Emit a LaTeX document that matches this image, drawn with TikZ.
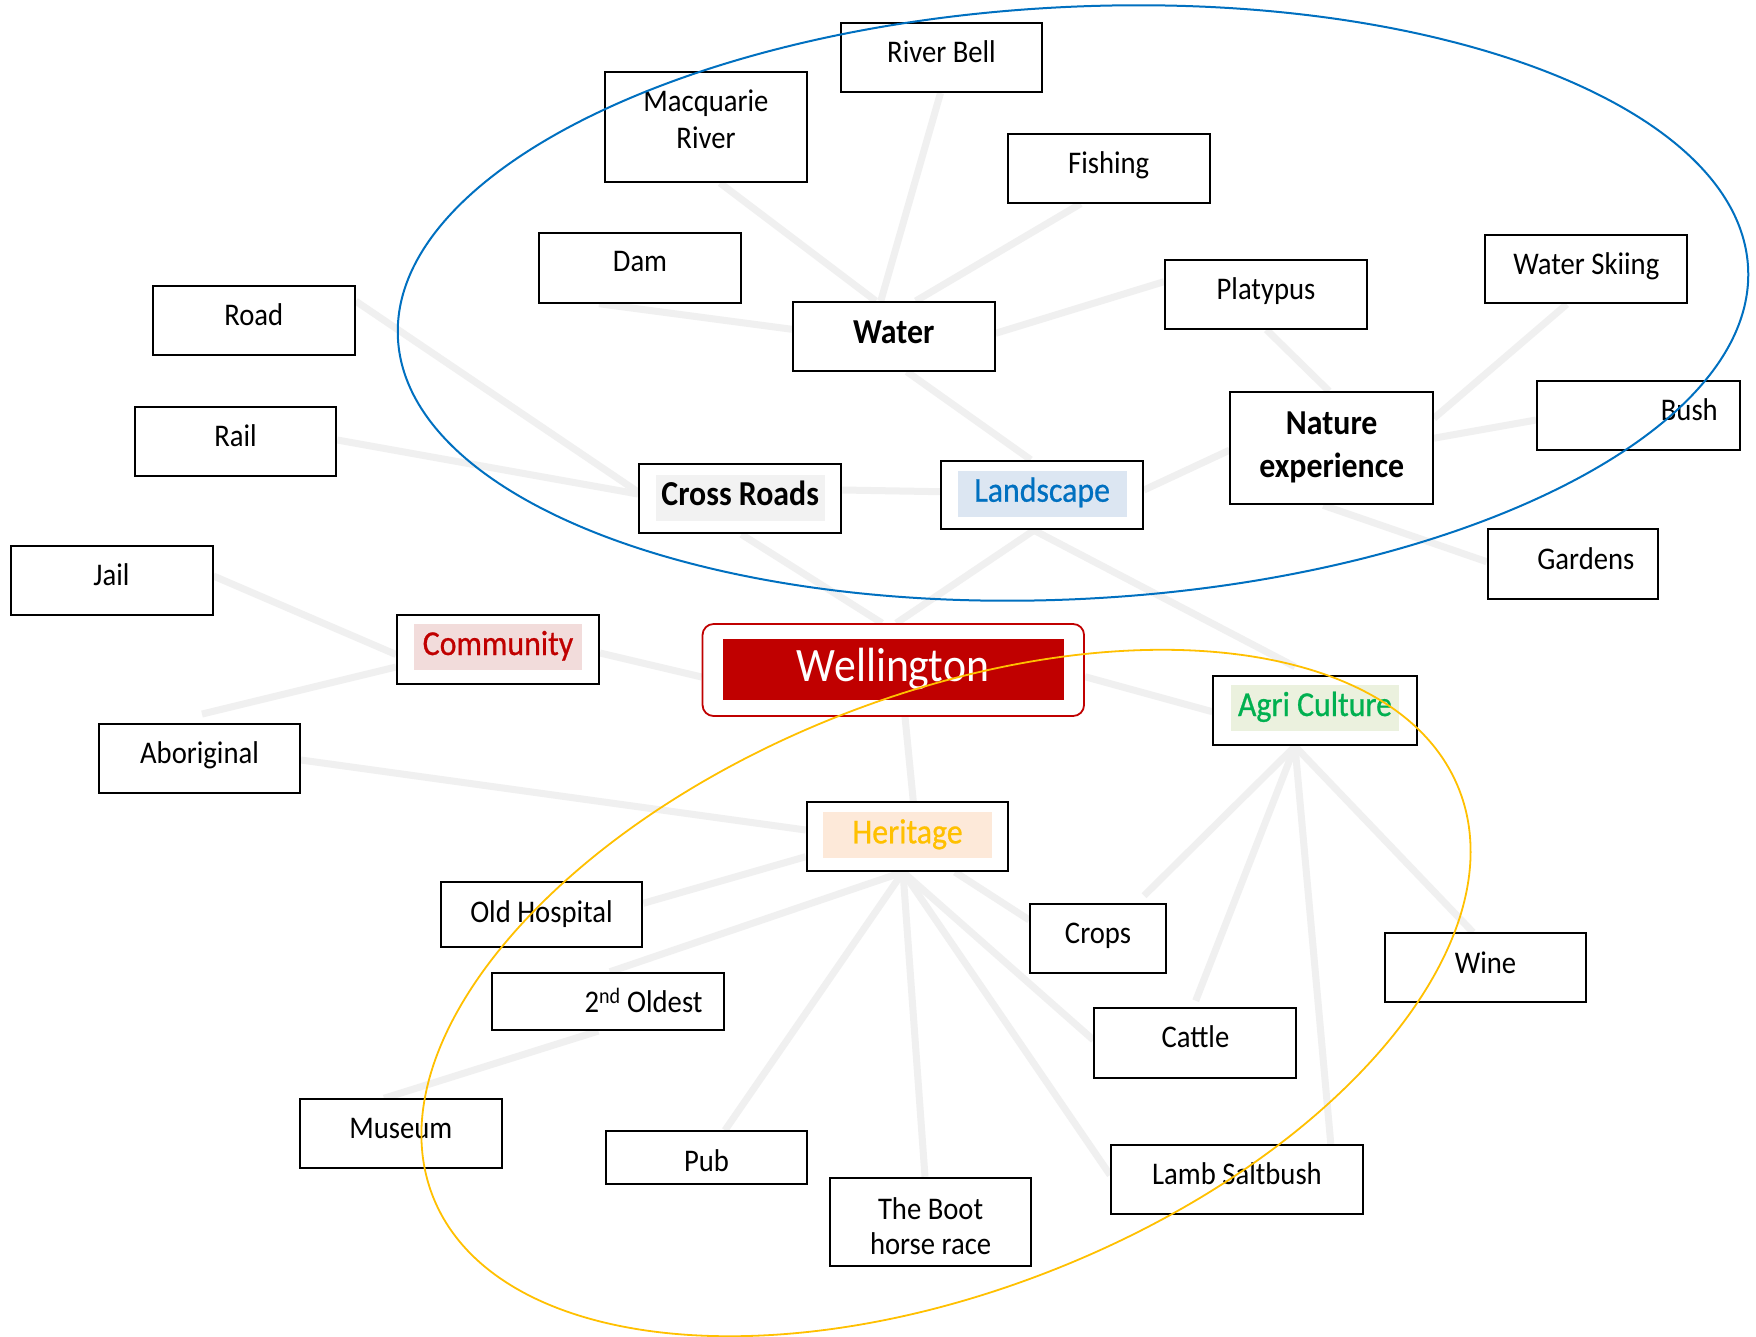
\documentclass[tikz,border=0pt]{standalone}
\usepackage{fontspec}
\setmainfont{Carlito}[FakeStretch=0.91]
\newfontfamily\labelfont{Carlito}[FakeStretch=0.91, FakeBold=0.7]
\pgfdeclarelayer{bg}
\pgfdeclarelayer{edges}
\pgfsetlayers{bg,edges,main}

\definecolor{edgegray}{HTML}{F0F0F0}
\definecolor{ringblue}{HTML}{0070C0}
\definecolor{ringgold}{HTML}{FFC000}
\definecolor{wred}{HTML}{C00000}
\definecolor{crfill}{HTML}{F2F2F2}
\definecolor{lsblue}{HTML}{0070C0}
\definecolor{lsfill}{HTML}{DCE6F2}
\definecolor{comred}{HTML}{C00000}
\definecolor{comfill}{HTML}{F2DCDB}
\definecolor{agrgreen}{HTML}{00B050}
\definecolor{agrfill}{HTML}{EBF1DE}
\definecolor{herorange}{HTML}{FFC000}
\definecolor{herfill}{HTML}{FDE9D9}

\tikzset{
  box/.style={draw=black, line width=2pt, fill=white, inner sep=0pt, rectangle},
  sz/.style 2 args={minimum width=#1pt, minimum height=#2pt},
  txt/.style={inner sep=0pt, anchor=base, font=\fontsize{31.5}{37}\selectfont},
  btxt/.style={inner sep=0pt, anchor=base, font=\fontsize{35}{43.3}\selectfont\bfseries},
  hl/.style={inner sep=0pt, anchor=base, minimum width=168.7pt, text height=31pt,
             text depth=15pt, font=\fontsize{35}{42}\selectfont\labelfont},
  conn/.style={draw=edgegray, line width=7pt},
  ring/.style={line width=2pt}
}

\begin{document}
\begin{tikzpicture}[x=1pt, y=-1pt]
\useasboundingbox (0,0) rectangle (1756,1336);
\begin{pgfonlayer}{bg}
  \fill[white] (0,0) rectangle (1756,1336);
\end{pgfonlayer}

% ---------- water cluster ----------
\node[box, sz={202}{110}] (macq) at (706,127) {};
\node[txt] (macq-t) at ([yshift=-40.3pt]macq.north)
  {\begin{tabular}[t]{@{}c@{}}Macquarie\\River\end{tabular}};
\node[box, sz={201}{69}] (riverbell) at (941.5,57.5) {};
\node[txt] (riverbell-t) at ([yshift=-40.7pt]riverbell.north) {River Bell};
\node[box, sz={202}{69}] (fishing) at (1108.7,168.2) {};
\node[txt] (fishing-t) at ([yshift=-40.3pt]fishing.north) {Fishing};
\node[box, sz={202}{69.4}] (dam) at (640,268) {};
\node[txt] (dam-t) at ([yshift=-39pt]dam.north) {Dam};
\node[box, sz={201.7}{68.7}] (water) at (893.8,336.3) {};
\node[btxt] (water-t) at ([yshift=-42.7pt]water.north) {Water};
\node[box, sz={202}{68.7}] (platypus) at (1266,294.3) {};
\node[txt] (platypus-t) at ([yshift=-40.5pt]platypus.north) {Platypus};
\node[box, sz={201.8}{68.6}] (waterski) at (1586.3,269) {};
\node[txt] (waterski-t) at ([yshift=-40.5pt]waterski.north) {Water Skiing};

% ---------- nature cluster ----------
\node[box, sz={202.5}{112.3}] (nature) at (1331.7,448.2) {};
\node[btxt] (nature-t) at ([yshift=-43.5pt]nature.north)
  {\begin{tabular}[t]{@{}c@{}}Nature\\experience\end{tabular}};
\node[box, sz={203}{69}] (bush) at (1638.5,415.5) {};
\node[txt, anchor=base east] (bush-t) at ([xshift=-23pt,yshift=-40.3pt]bush.north east) {Bush};
\node[box, sz={170.4}{69.4}] (gardens) at (1572.8,564) {};
\node[txt] (gardens-t) at ([xshift=13pt,yshift=-41pt]gardens.north) {Gardens};

% ---------- roads ----------
\node[box, sz={202}{69}] (road) at (253.8,320.2) {};
\node[txt] (road-t) at ([yshift=-40.5pt]road.north) {Road};
\node[box, sz={201.6}{69.4}] (rail) at (235.5,441.7) {};
\node[txt] (rail-t) at ([yshift=-40.5pt]rail.north) {Rail};
\node[box, sz={202.4}{69.3}] (crossroads) at (740.2,498.7) {};
\node[hl, fill=crfill, font=\fontsize{35}{42}\selectfont\bfseries] (crossroads-t)
  at ([yshift=-42.7pt]crossroads.north) {Cross Roads};
\node[box, sz={201.6}{68.6}] (landscape) at (1042.2,495) {};
\node[hl, fill=lsfill, text=lsblue] (landscape-t) at ([yshift=-42pt]landscape.north) {Landscape};

% ---------- community ----------
\node[box, sz={202}{69}] (jail) at (111.5,580.5) {};
\node[txt] (jail-t) at ([yshift=-40.5pt]jail.north) {Jail};
\node[box, sz={202}{69}] (community) at (498,649.5) {};
\node[hl, fill=comfill, text=comred] (community-t) at ([yshift=-41pt]community.north) {Community};
\node[box, sz={201}{69.3}] (aboriginal) at (199.5,758.3) {};
\node[txt] (aboriginal-t) at ([yshift=-41pt]aboriginal.north) {Aboriginal};

% ---------- centre ----------
\node[draw=wred, line width=1.8pt, fill=white, rounded corners=11pt, inner sep=0pt,
      sz={381.5}{92}] (wellington) at (893.3,670) {};
\node[fill=wred, text=white, inner sep=0pt, minimum width=341pt, text height=42pt,
      text depth=19pt, font=\fontsize{48}{56}\selectfont] (wellington-t) at (893,669.5) {Wellington};

% ---------- agriculture ----------
\node[box, sz={203.4}{69.6}] (agri) at (1315,710.5) {};
\node[hl, fill=agrfill, text=agrgreen] (agri-t) at ([yshift=-41.3pt]agri.north) {Agri Culture};
\node[box, sz={135.5}{69}] (crops) at (1098,938.5) {};
\node[txt] (crops-t) at ([yshift=-40.5pt]crops.north) {Crops};
\node[box, sz={201}{68.7}] (wine) at (1485.5,967.7) {};
\node[txt] (wine-t) at ([yshift=-41pt]wine.north) {Wine};
\node[box, sz={202}{69.4}] (cattle) at (1195.4,1043) {};
\node[txt] (cattle-t) at ([yshift=-40.5pt]cattle.north) {Cattle};
\node[box, sz={251.8}{69.3}] (lamb) at (1237,1179.6) {};
\node[txt] (lamb-t) at ([yshift=-40.3pt]lamb.north) {Lamb Saltbush};

% ---------- heritage ----------
\node[box, sz={201.6}{68.7}] (heritage) at (907.5,836.7) {};
\node[hl, fill=herfill, text=herorange] (heritage-t) at ([yshift=-42pt]heritage.north) {Heritage};
\node[box, sz={201.6}{64.4}] (oldhosp) at (541.5,914.5) {};
\node[txt] (oldhosp-t) at ([yshift=-40.7pt]oldhosp.north) {Old Hospital};
\node[box, sz={231.4}{57.3}] (oldest) at (608,1001.4) {};
\node[txt, anchor=base east] (oldest-t) at ([xshift=-22pt,yshift=-40.3pt]oldest.north east)
  {2\textsuperscript{nd} Oldest};
\node[box, sz={201.7}{69}] (museum) at (400.8,1133.8) {};
\node[txt] (museum-t) at ([yshift=-40.5pt]museum.north) {Museum};
\node[box, sz={201.6}{52.7}] (pub) at (706.5,1157.6) {};
\node[txt] (pub-t) at ([yshift=-41pt]pub.north) {Pub};
\node[box, sz={201.2}{88.3}] (boot) at (930.6,1221.8) {};
\node[txt, font=\fontsize{31.5}{35}\selectfont] (boot-t) at ([yshift=-42.5pt]boot.north)
  {\begin{tabular}[t]{@{}c@{}}The Boot\\horse race\end{tabular}};

% ---------- connectors ----------
\begin{pgfonlayer}{edges}
\draw[conn] ([xshift=14pt]macq.south) -- ([xshift=-18pt]water.north);
\draw[conn] ([xshift=-1pt]riverbell.south) -- ([xshift=-13pt]water.north);
\draw[conn] ([xshift=-28pt]fishing.south) -- ([xshift=22pt]water.north);
\draw[conn] ([xshift=-41pt]dam.south) -- ([yshift=7pt]water.west);
\draw[conn] ([yshift=3pt]water.east) -- ([yshift=12.6pt]platypus.west);
\draw[conn] ([xshift=13pt]water.south) -- ([xshift=-11.5pt]landscape.north);
\draw[conn] ([xshift=0.4pt]platypus.south) -- ([xshift=-2.7pt]nature.north);
\draw[conn] ([xshift=-19.6pt]waterski.south) -- ([yshift=30pt]nature.east);
\draw[conn] ([yshift=10pt]nature.east) -- ([yshift=-4.5pt]bush.west);
\draw[conn] ([xshift=-8.4pt]nature.south) -- ([yshift=2.3pt]gardens.west);
\draw[conn] ([yshift=-2pt]nature.west) -- ([yshift=5pt]landscape.east);
\draw[conn] ([yshift=8.7pt]crossroads.east) -- ([yshift=3.3pt]landscape.west);
\draw[conn] ([yshift=19pt]road.east) -- ([yshift=6.7pt]crossroads.west);
\draw[conn] ([yshift=1.7pt]rail.east) -- ([yshift=4.7pt]crossroads.west);
\draw[conn] ([xshift=1.2pt]crossroads.south) -- ([xshift=-11.3pt]wellington.north);
\draw[conn] ([xshift=-8.2pt]landscape.south) -- ([xshift=3pt]wellington.north);
\draw[conn] ([xshift=-8.2pt]landscape.south) -- ([xshift=-20pt,yshift=8pt]agri.north);
\draw[conn] ([yshift=4.5pt]jail.east) -- ([yshift=-5pt]community.west);
\draw[conn] ([xshift=2.5pt,yshift=8.6pt]aboriginal.north) -- ([yshift=-17.5pt]community.west);
\draw[conn] ([yshift=-3.5pt]community.east) -- ([yshift=-7pt]wellington.west);
\draw[conn] ([yshift=-6.7pt]wellington.east) -- ([yshift=-1.2pt]agri.west);
\draw[conn] ([xshift=11.7pt]wellington.south) -- ([xshift=5.8pt]heritage.north);
\draw[conn] ([yshift=-1.7pt]aboriginal.east) -- ([yshift=6.7pt]heritage.west);
\draw[conn] ([yshift=11.2pt]oldhosp.east) -- ([yshift=-20pt]heritage.west);
\draw[conn] ([xshift=-4.5pt]heritage.south) -- ([xshift=2pt]oldest.north);
\draw[conn] ([xshift=-9.7pt]oldest.south) -- ([xshift=-16.8pt]museum.north);
\draw[conn] ([xshift=-4.5pt]heritage.south) -- ([xshift=18.5pt]pub.north);
\draw[conn] ([xshift=-4.5pt]heritage.south) -- ([xshift=-5.6pt]boot.north);
\draw[conn] ([xshift=-4.5pt]heritage.south) -- ([yshift=4.6pt]lamb.west);
\draw[conn] ([xshift=-4.5pt]heritage.south) -- ([yshift=3pt]cattle.west);
\draw[conn] ([xshift=47.5pt]heritage.south) -- ([yshift=18.5pt]crops.west);
\draw[conn] ([xshift=-20pt]agri.south) -- ([xshift=46pt,yshift=7.3pt]crops.north);
\draw[conn] ([xshift=-20pt]agri.south) -- ([xshift=0.3pt,yshift=6.6pt]cattle.north);
\draw[conn] ([xshift=-20pt]agri.south) -- ([xshift=93.8pt]lamb.north);
\draw[conn] ([xshift=-20pt]agri.south) -- ([xshift=-12.5pt]wine.north);
\end{pgfonlayer}

% ---------- grouping rings ----------
\draw[ring, draw=ringblue, rotate around={3:(1073,303)}]
  (1073,303) ellipse [x radius=676pt, y radius=296pt];
\draw[ring, draw=ringgold, line width=1.8pt, rotate around={21.7:(946,993)}]
  (946,993) ellipse [x radius=552pt, y radius=297pt];
\end{tikzpicture}
\end{document}
